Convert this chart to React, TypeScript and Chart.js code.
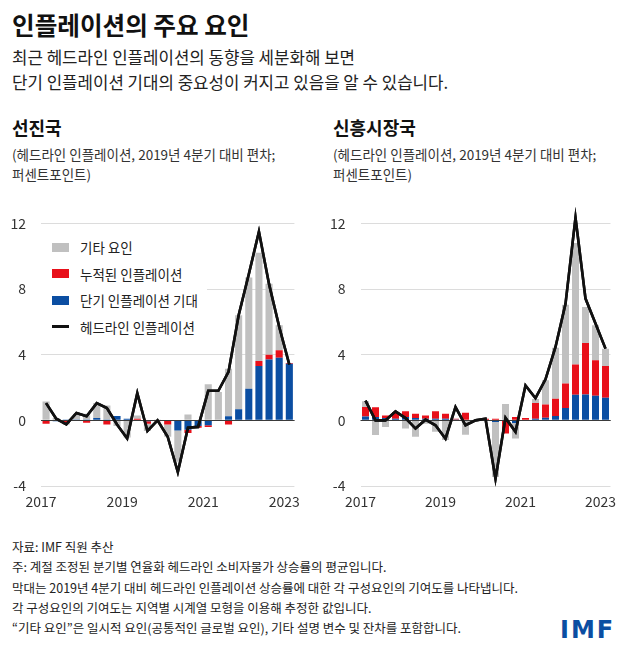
import React, { useEffect, useRef } from 'react';
import Chart from 'chart.js/auto';

// ---------- data ----------
const quarters = [
  '2017Q1', '2017Q2', '2017Q3', '2017Q4',
  '2018Q1', '2018Q2', '2018Q3', '2018Q4',
  '2019Q1', '2019Q2', '2019Q3', '2019Q4',
  '2020Q1', '2020Q2', '2020Q3', '2020Q4',
  '2021Q1', '2021Q2', '2021Q3', '2021Q4',
  '2022Q1', '2022Q2', '2022Q3', '2022Q4',
  '2023Q1',
];
const yearTickLabels = ['2017', '2019', '2021', '2023'];
const yTicks = [-4, 0, 4, 8, 12];

// Advanced economies (선진국)
const adHeadline = [1.05, 0.1, -0.25, 0.45, 0.25, 1.05, 0.75, -0.25, -1.1, 1.65, -0.65, 0.0, -1.0, -3.15, -0.45, -0.4, 1.8, 1.8, 2.95, 6.4, 8.9, 11.5, 8.3, 5.7, 3.4];
const adShortTerm = [0, -0.05, 0.05, 0.05, 0.05, 0.15, 0.05, 0.27, 0.1, 0, -0.05, 0, 0, -0.62, -0.57, -0.35, -0.3, 0, 0.25, 0.67, 1.93, 3.31, 3.7, 3.82, 3.45];
const adLagged = [-0.2, 0, -0.15, 0, -0.15, 0, -0.25, 0, 0, 0.1, -0.15, -0.05, -0.25, 0, -0.2, -0.1, -0.1, 0, -0.26, 0, 0, 0.3, 0.3, 0.45, 0.05];
const adOther = [1.15, 0.15, -0.1, 0.35, 0.35, 0.9, 0.85, -0.35, -1.05, 0.2, -0.45, 0.05, -0.75, -1.9, 0.35, 0, 2.2, 1.73, 2.9, 5.73, 6.77, 6.6, 4.33, 1.53, 0];

// Emerging markets (신흥시장국)
const emHeadline = [1.2, 0.0, 0.0, 0.55, 0.14, -0.5, 0.04, -0.3, -1.12, 0.81, -0.3, 0.0, 0.1, -3.56, 0.15, -0.7, 2.13, 1.35, 2.5, 4.47, 7.1, 12.35, 7.42, 5.9, 4.37];
const emShortTerm = [0.24, 0.2, 0.15, 0.1, 0.2, 0.14, 0.1, 0.1, 0.1, 0.05, 0, 0, 0, -0.1, 0, -0.16, 0, 0.1, 0.16, 0.26, 0.75, 1.56, 1.58, 1.5, 1.38];
const emLagged = [0.57, 0.6, 0.15, 0.4, 0.35, 0.26, 0.2, 0.45, 0.3, 0.05, 0.47, 0, 0.1, 0.1, -0.8, 0.2, 0.15, 0.96, 0.8, 1.06, 1.49, 1.84, 3.14, 2.16, 1.93];
const emOther = [0.35, -0.9, -0.4, 0, -0.5, -1.0, -0.2, -0.7, -1.2, 0, -0.87, 0, 0, -3.35, 1.0, -0.95, 0, 0.24, 1.48, 3.11, 4.81, 7.4, 2.18, 2.14, 1.06];

const seriesNames = ['기타 요인', '누적된 인플레이션', '단기 인플레이션 기대', '헤드라인 인플레이션'];

// ---------- style ----------
const FONT = '"Noto Sans CJK KR", "Noto Sans", sans-serif';
const GRAY = '#c0c0c0';
const RED = '#e8101a';
const BLUE = '#0b4ea2';
const LINE = '#111111';
const TEXT = '#1a1a1a';

type PanelProps = {
  headline: number[];
  shortTerm: number[];
  lagged: number[];
  other: number[];
  yAxisWidth: number;
  padRight: number;
};

const zeroLinePlugin = {
  id: 'zeroLineOnTop',
  afterDatasetsDraw(chart: any) {
    const y = chart.scales.y.getPixelForValue(0);
    const { left, right } = chart.chartArea;
    const ctx = chart.ctx;
    ctx.save();
    ctx.strokeStyle = '#3a3a3a';
    ctx.lineWidth = 1;
    ctx.beginPath();
    ctx.moveTo(left, Math.round(y) + 0.5);
    ctx.lineTo(right, Math.round(y) + 0.5);
    ctx.stroke();
    ctx.restore();
    // redraw headline line on top of the zero line
    const meta = chart.getDatasetMeta(0);
    if (meta && meta.dataset) {
      ctx.save();
      meta.dataset.draw(ctx, chart.chartArea);
      ctx.restore();
    }
  },
};

function Panel({ headline, shortTerm, lagged, other, yAxisWidth, padRight }: PanelProps) {
  const ref = useRef<HTMLCanvasElement | null>(null);
  useEffect(() => {
    if (!ref.current) return;
    const chart = new Chart(ref.current, {
      type: 'bar',
      data: {
        labels: quarters,
        datasets: [
          {
            type: 'line',
            label: seriesNames[3],
            data: headline,
            borderColor: LINE,
            borderWidth: 2.6,
            pointRadius: 0,
            tension: 0,
            stack: 'headline',
            order: 0,
            clip: false,
          } as any,
          { label: seriesNames[2], data: shortTerm, backgroundColor: BLUE, stack: 'bars', order: 1 },
          { label: seriesNames[1], data: lagged, backgroundColor: RED, stack: 'bars', order: 1 },
          { label: seriesNames[0], data: other, backgroundColor: GRAY, stack: 'bars', order: 1 },
        ],
      },
      options: {
        animation: false,
        responsive: true,
        maintainAspectRatio: false,
        layout: { padding: { top: 0, right: padRight, left: 0, bottom: 0 } },
        plugins: { legend: { display: false }, tooltip: { enabled: false } },
        datasets: { bar: { categoryPercentage: 1, barPercentage: 0.7 } },
        scales: {
          x: {
            stacked: true,
            grid: { display: false, drawTicks: false },
            border: { display: false },
            ticks: {
              autoSkip: false,
              maxRotation: 0,
              padding: 7,
              labelOffset: -5,
              color: '#333',
              font: { family: FONT, size: 14 },
              callback: (_v: any, i: number) => {
                const q = quarters[i];
                const y = q.slice(0, 4);
                return q.endsWith('Q1') && yearTickLabels.includes(y) ? y : '';
              },
            },
            afterFit: (s: any) => {
              s.height = 28;
              s.paddingLeft = 0;
              s.paddingRight = 0;
            },
          },
          y: {
            stacked: true,
            min: yTicks[0],
            max: yTicks[yTicks.length - 1],
            afterBuildTicks: (s: any) => { s.ticks = yTicks.map((v) => ({ value: v })); },
            ticks: { padding: 15, color: '#333', font: { family: FONT, size: 14 } },
            grid: {
              drawTicks: false,
              lineWidth: 1,
              color: (ctx: any) => (ctx.tick && ctx.tick.value === 0 ? '#3a3a3a' : '#dcdcdc'),
            },
            border: { display: false },
            afterFit: (s: any) => { s.width = yAxisWidth; },
          },
        },
      } as any,
      plugins: [zeroLinePlugin],
    });
    return () => chart.destroy();
  }, []);
  return <canvas ref={ref} />;
}

const abs = (left: number, top: number, extra: React.CSSProperties = {}): React.CSSProperties => ({
  position: 'absolute',
  left,
  top,
  whiteSpace: 'nowrap',
  fontFamily: FONT,
  color: TEXT,
  ...extra,
});

function Legend() {
  const rowH = 26.5;
  const items = [
    { name: seriesNames[0], color: GRAY, line: false },
    { name: seriesNames[1], color: RED, line: false },
    { name: seriesNames[2], color: BLUE, line: false },
    { name: seriesNames[3], color: LINE, line: true },
  ];
  return (
    <div style={{ position: 'absolute', left: 40, top: 233, width: 167, height: 106, background: '#fff' }}>
      {items.map((it, k) => {
        const cy = 14 + k * rowH;
        return (
          <React.Fragment key={it.name}>
            <div
              style={{
                position: 'absolute',
                left: 12,
                top: it.line ? cy - 1.3 : cy - 4.5,
                width: 16.5,
                height: it.line ? 2.6 : 9,
                background: it.color,
              }}
            />
            <div
              style={{
                position: 'absolute',
                left: 40,
                top: cy - 10,
                fontSize: 13.5,
                lineHeight: '20px',
                fontFamily: FONT,
                color: '#222',
                whiteSpace: 'nowrap',
              }}
            >
              {it.name}
            </div>
          </React.Fragment>
        );
      })}
    </div>
  );
}

export default function App() {
  return (
    <div style={{ position: 'absolute', left: 0, top: 0, width: 637, height: 666, background: '#fff', overflow: 'hidden' }}>
      <div style={abs(12, 8, { fontSize: 24.6, fontWeight: 700, lineHeight: '32px', color: '#111' })}>
        인플레이션의 주요 요인
      </div>
      <div style={abs(12, 45, { fontSize: 16.8, lineHeight: '25px', color: '#222' })}>
        최근 헤드라인 인플레이션의 동향을 세분화해 보면
        <br />
        단기 인플레이션 기대의 중요성이 커지고 있음을 알 수 있습니다.
      </div>

      <div style={abs(12, 115, { fontSize: 18, fontWeight: 700, lineHeight: '24px', color: '#111' })}>선진국</div>
      <div style={abs(333, 115, { fontSize: 18, fontWeight: 700, lineHeight: '24px', color: '#111' })}>신흥시장국</div>

      <div style={abs(12, 145, { fontSize: 13.5, lineHeight: '19.5px', color: '#333' })}>
        (헤드라인 인플레이션, 2019년 4분기 대비 편차;
        <br />
        퍼센트포인트)
      </div>
      <div style={abs(333, 145, { fontSize: 13.5, lineHeight: '19.5px', color: '#333' })}>
        (헤드라인 인플레이션, 2019년 4분기 대비 편차;
        <br />
        퍼센트포인트)
      </div>

      <div style={{ position: 'absolute', left: 0, top: 200, width: 300, height: 314 }}>
        <Panel headline={adHeadline} shortTerm={adShortTerm} lagged={adLagged} other={adOther} yAxisWidth={41} padRight={5.6} />
      </div>
      <Legend />
      <div style={{ position: 'absolute', left: 320, top: 200, width: 297, height: 314 }}>
        <Panel headline={emHeadline} shortTerm={emShortTerm} lagged={emLagged} other={emOther} yAxisWidth={40.5} padRight={6.5} />
      </div>

      <div style={abs(12, 537, { fontSize: 12.5, lineHeight: '20.25px', color: '#222' })}>
        자료: IMF 직원 추산
        <br />
        주: 계절 조정된 분기별 연율화 헤드라인 소비자물가 상승률의 평균입니다.
        <br />
        막대는 2019년 4분기 대비 헤드라인 인플레이션 상승률에 대한 각 구성요인의 기여도를 나타냅니다.
        <br />
        각 구성요인의 기여도는 지역별 시계열 모형을 이용해 추정한 값입니다.
        <br />
        “기타 요인”은 일시적 요인(공통적인 글로벌 요인), 기타 설명 변수 및 잔차를 포함합니다.
      </div>

      <div
        style={abs(560, 618, {
          fontSize: 24,
          lineHeight: '24px',
          fontWeight: 700,
          fontFamily: '"DejaVu Sans", sans-serif',
          color: '#0b4ea2',
          letterSpacing: 2,
        })}
      >
        IMF
      </div>
    </div>
  );
}
